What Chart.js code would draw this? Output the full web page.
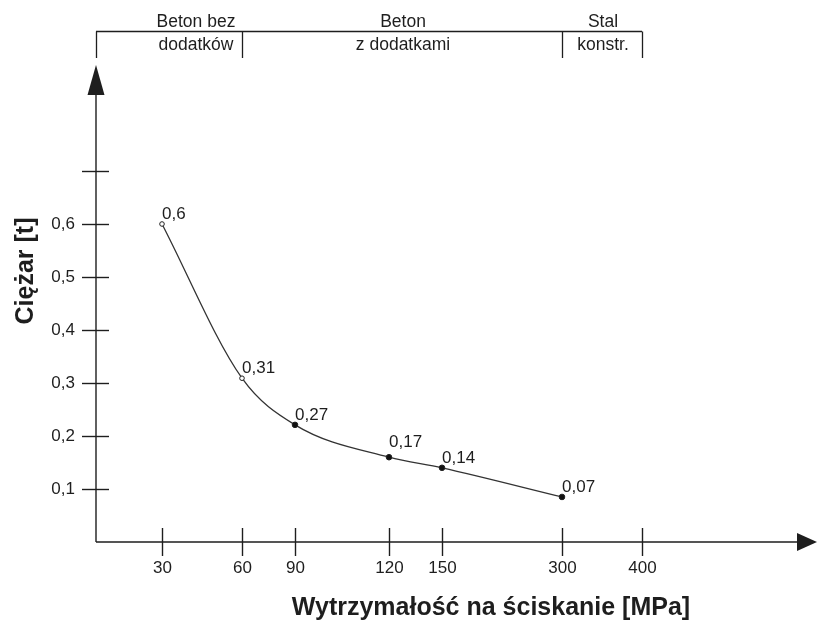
<!DOCTYPE html>
<html>
<head>
<meta charset="utf-8">
<script src="https://cdn.jsdelivr.net/npm/chart.js@4"></script>
<style>
  body { margin: 0; background: #fff; }
  canvas { display: block; }
</style>
</head>
<body>
<canvas id="weight-chart" width="817" height="622"></canvas>
<script>
'use strict';

// x axis of the figure is not to scale: each MPa tick sits at its own place
const mpaTicks = ['30', '60', '90', '120', '150', '300', '400'];
const mpaTickPos = [66, 146, 199, 293, 346, 466, 546];
const xAxisEnd = 721;

const pointMpa = ['30', '60', '90', '120', '150', '300'];
const weightDrawn = [0.6, 0.309, 0.221, 0.16, 0.14, 0.085];
const weightLabels = ['0,6', '0,31', '0,27', '0,17', '0,14', '0,07'];
const labelLift = [0, 0, 0, 5, 0, 0];
const hollowPoints = [true, true, false, false, false, false];

const yTicks = [0.1, 0.2, 0.3, 0.4, 0.5, 0.6, 0.7];
const yTickLabels = ['0,1', '0,2', '0,3', '0,4', '0,5', '0,6', ''];
const yAxisEnd = 0.9;

const groupNames = [['Beton bez', 'dodatków'], ['Beton', 'z dodatkami'], ['Stal', 'konstr.']];
const groupBounds = ['0', '60', '300', '400'];

const inkColor = '#1e1e1e';
const fontName = '"Liberation Sans", Arial, sans-serif';

function xForMpa(mpa) {
    return mpa === '0' ? 0 : mpaTickPos[mpaTicks.indexOf(mpa)];
}

let points = pointMpa.map((m, i) => ({ x: xForMpa(m), y: weightDrawn[i] }));

const drawingPlugin = {
    id: 'drawing',
    beforeDatasetsDraw(chart) {
        let ctx = chart.ctx;
        let xs = chart.scales.x;
        let ys = chart.scales.y;
        let x0 = xs.getPixelForValue(0);
        let y0 = ys.getPixelForValue(0);
        let right = xs.getPixelForValue(xAxisEnd);
        let top = ys.getPixelForValue(yAxisEnd);

        ctx.save();
        ctx.strokeStyle = inkColor;
        ctx.fillStyle = inkColor;
        ctx.lineWidth = 1.4;

        // axes
        ctx.beginPath();
        ctx.moveTo(x0, y0);
        ctx.lineTo(right - 18, y0);
        ctx.moveTo(x0, y0);
        ctx.lineTo(x0, top + 28);
        ctx.stroke();

        // arrow heads
        ctx.beginPath();
        ctx.moveTo(right, y0);
        ctx.lineTo(right - 20, y0 - 9);
        ctx.lineTo(right - 20, y0 + 9);
        ctx.closePath();
        ctx.fill();
        ctx.beginPath();
        ctx.moveTo(x0, top);
        ctx.lineTo(x0 - 8.5, top + 30);
        ctx.lineTo(x0 + 8.5, top + 30);
        ctx.closePath();
        ctx.fill();

        // y ticks
        ctx.font = '17px ' + fontName;
        ctx.textAlign = 'right';
        ctx.textBaseline = 'middle';
        yTicks.forEach((v, i) => {
            let py = Math.round(ys.getPixelForValue(v)) + 0.5;
            ctx.beginPath();
            ctx.moveTo(x0 - 14, py);
            ctx.lineTo(x0 + 13, py);
            ctx.stroke();
            ctx.fillText(yTickLabels[i], x0 - 21, py);
        });

        // x ticks
        ctx.textAlign = 'center';
        mpaTicks.forEach((t, i) => {
            let px = Math.round(xs.getPixelForValue(mpaTickPos[i])) + 0.5;
            ctx.beginPath();
            ctx.moveTo(px, y0 - 14);
            ctx.lineTo(px, y0 + 14);
            ctx.stroke();
            ctx.fillText(t, px, y0 + 26);
        });

        // header brackets
        let hy = 31.5;
        let leftEdge = xs.getPixelForValue(xForMpa(groupBounds[0]));
        let rightEdge = xs.getPixelForValue(xForMpa(groupBounds[groupBounds.length - 1]));
        ctx.lineWidth = 1.3;
        ctx.beginPath();
        ctx.moveTo(leftEdge, hy);
        ctx.lineTo(rightEdge, hy);
        groupBounds.forEach(b => {
            let px = Math.round(xs.getPixelForValue(xForMpa(b))) + 0.5;
            ctx.moveTo(px, hy);
            ctx.lineTo(px, 58);
        });
        ctx.stroke();

        ctx.font = '17.5px ' + fontName;
        ctx.textBaseline = 'alphabetic';
        groupNames.forEach((lines, i) => {
            let a = xs.getPixelForValue(xForMpa(groupBounds[i]));
            let b = xs.getPixelForValue(xForMpa(groupBounds[i + 1]));
            let cx = i === 0 ? b - 46 : (a + b) / 2 + 1;
            ctx.fillText(lines[0], cx, 27);
            ctx.fillText(lines[1], cx, 50);
        });

        // axis titles
        ctx.font = 'bold 25px ' + fontName;
        ctx.fillText('Wytrzymałość na ściskanie [MPa]', 491, 615);
        ctx.save();
        ctx.translate(33, 271);
        ctx.rotate(-Math.PI / 2);
        ctx.fillText('Ciężar [t]', 0, 0);
        ctx.restore();

        ctx.restore();
    },
    afterDatasetsDraw(chart) {
        let ctx = chart.ctx;
        let meta = chart.getDatasetMeta(0);
        ctx.save();
        ctx.fillStyle = inkColor;
        ctx.font = '17px ' + fontName;
        ctx.textAlign = 'left';
        ctx.textBaseline = 'alphabetic';
        meta.data.forEach((pt, i) => {
            ctx.fillText(weightLabels[i], pt.x, pt.y - 5 - labelLift[i]);
        });
        ctx.restore();
    }
};

const ctx = document.getElementById('weight-chart').getContext('2d');
const weightChart = new Chart(ctx, {
    type: 'line',
    data: {
        datasets: [{
            data: points,
            borderColor: '#333',
            borderWidth: 1.3,
            cubicInterpolationMode: 'monotone',
            pointRadius: hollowPoints.map(h => h ? 2.3 : 2.8),
            pointBackgroundColor: hollowPoints.map(h => h ? '#fff' : '#111'),
            pointBorderColor: '#222',
            pointBorderWidth: 1,
            clip: false
        }]
    },
    options: {
        responsive: false,
        animation: false,
        events: [],
        layout: { autoPadding: false, padding: { left: 96, top: 65, right: 0, bottom: 80 } },
        plugins: { legend: { display: false }, tooltip: { enabled: false } },
        scales: {
            x: { type: 'linear', min: 0, max: xAxisEnd, display: false },
            y: { type: 'linear', min: 0, max: yAxisEnd, display: false }
        }
    },
    plugins: [drawingPlugin]
});
</script>
</body>
</html>
